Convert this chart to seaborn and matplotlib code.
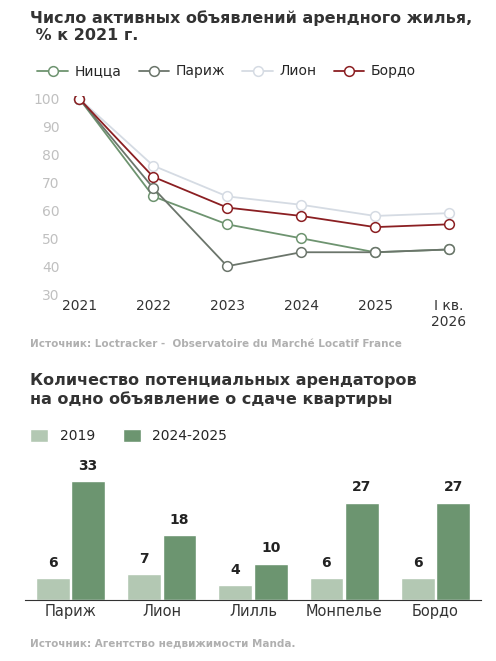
import matplotlib
matplotlib.use("Agg")
import matplotlib.pyplot as plt
import seaborn as sns
import pandas as pd

# ── Данные ────────────────────────────────────────────────────────────────────
periods = ["2021", "2022", "2023", "2024", "2025", "I кв.\n2026"]
nice = [100, 65, 55, 50, 45, 46]
paris = [100, 68, 40, 45, 45, 46]
lyon = [100, 76, 65, 62, 58, 59]
bordeaux = [100, 72, 61, 58, 54, 55]

cities = ["Париж", "Лион", "Лилль", "Монпелье", "Бордо"]
tenants_2019 = [6, 7, 4, 6, 6]
tenants_2425 = [33, 18, 10, 27, 27]

sns.set_style("white")
plt.rcParams["font.family"] = ["DejaVu Sans"]

fig = plt.figure(figsize=(4.96, 6.61), dpi=100)

# ── Линейный график ──────────────────────────────────────────────────────────
fig.text(0.06, 0.985, "Число активных объявлений арендного жилья,\n % к 2021 г.",
         fontsize=11.5, fontweight="bold", color="#333333", va="top")

ax1 = fig.add_axes([0.13, 0.555, 0.82, 0.30])
series = {"Ницца": (nice, "#6e9470"), "Париж": (paris, "#6b756b"),
          "Лион": (lyon, "#d5dbe3"), "Бордо": (bordeaux, "#8b1f22")}
long = pd.DataFrame([{"x": i, "v": v, "city": c}
                     for c, (vals, _) in series.items() for i, v in enumerate(vals)])
sns.lineplot(data=long, x="x", y="v", hue="city",
             palette={c: col for c, (_, col) in series.items()},
             marker="o", markersize=7, markerfacecolor="white", markeredgewidth=1.1,
             linewidth=1.3, ax=ax1, legend=True)
for line in ax1.lines:
    line.set_markeredgecolor(line.get_color())
ax1.set_ylim(30, 101)
ax1.set_yticks(range(30, 101, 10))
ax1.set_xlim(-0.2, 5.3)
ax1.set_xticks(range(len(periods)))
ax1.set_xticklabels(periods, fontsize=10, color="#333333")
ax1.tick_params(axis="y", labelsize=10, labelcolor="#c0c0c0", length=0)
ax1.tick_params(axis="x", length=0)
ax1.set_xlabel("")
ax1.set_ylabel("")
sns.despine(ax=ax1, left=True, bottom=True)
handles, labels = ax1.get_legend_handles_labels()
for h in handles:
    h.set_markerfacecolor("white")
    h.set_markeredgecolor(h.get_color())
ax1.legend(handles, labels, ncol=4, frameon=False, loc="lower left",
           bbox_to_anchor=(-0.08, 1.06), fontsize=10, handlelength=2.2,
           columnspacing=1.2, handletextpad=0.5, borderaxespad=0)

fig.text(0.06, 0.475, "Источник: Loctracker -  Observatoire du Marché Locatif France",
         fontsize=7.5, fontweight="bold", color="#b0b0b0")

# ── Столбчатая диаграмма ─────────────────────────────────────────────────────
fig.text(0.06, 0.435, "Количество потенциальных арендаторов\nна одно объявление о сдаче квартиры",
         fontsize=11.5, fontweight="bold", color="#333333", va="top")

ax2 = fig.add_axes([0.05, 0.093, 0.92, 0.19])
bars = pd.DataFrame({"city": cities * 2,
                     "val": tenants_2019 + tenants_2425,
                     "period": ["2019"] * 5 + ["2024-2025"] * 5})
sns.barplot(data=bars, x="city", y="val", hue="period",
            palette={"2019": "#b3c8b3", "2024-2025": "#6c9570"},
            saturation=1, width=0.78, gap=0.05, ax=ax2, legend=True)
for cont in ax2.containers:
    ax2.bar_label(cont, padding=6, fontsize=10, fontweight="bold", color="#222222")
ax2.set_ylim(0, 35)
ax2.set_yticks([])
ax2.set_xlabel("")
ax2.set_ylabel("")
ax2.tick_params(axis="x", labelsize=10.5, length=0, colors="#333333")
sns.despine(ax=ax2, left=True)
ax2.spines["bottom"].set_color("#333333")
ax2.legend(ncol=2, frameon=False, loc="lower left", bbox_to_anchor=(0.0, 1.2),
           fontsize=10, handlelength=1.3, handleheight=1.0, columnspacing=2.0,
           borderaxespad=0)

fig.text(0.06, 0.022, "Источник: Агентство недвижимости Manda.",
         fontsize=7.5, fontweight="bold", color="#b0b0b0")

fig.savefig("out.png", dpi=100)
